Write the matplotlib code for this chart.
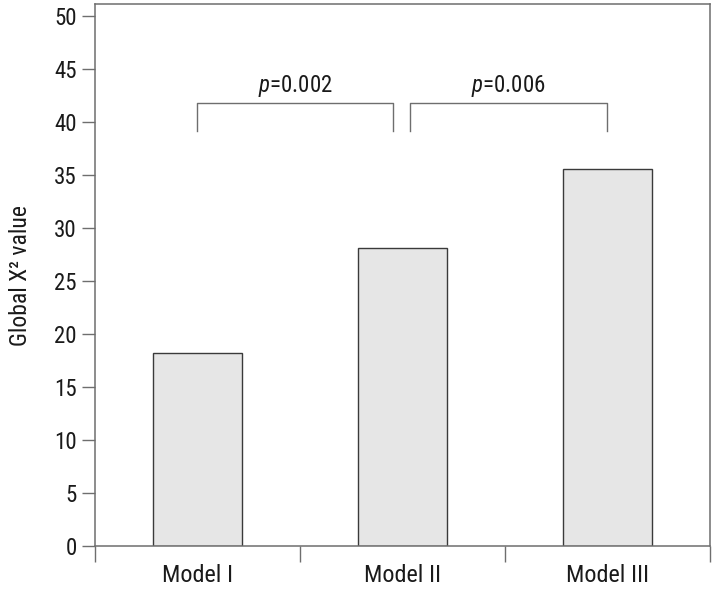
import matplotlib
matplotlib.use('Agg')
import matplotlib.pyplot as plt
from matplotlib import font_manager
from matplotlib.ticker import FixedLocator

# --- data ---
models = ['Model I', 'Model II', 'Model III']
chi2_values = [18.2, 28.1, 35.6]
y_ticks = [0, 5, 10, 15, 20, 25, 30, 35, 40, 45, 50]
p_labels = ['0.002', '0.006']

# pick a narrow face if one is around
names = {f.name for f in font_manager.fontManager.ttflist}
narrow = [n for n in ['Roboto Condensed', 'Liberation Sans Narrow'] if n in names]
FONT = narrow + ['Liberation Sans', 'DejaVu Sans']
plt.rcParams['font.family'] = FONT
plt.rcParams['mathtext.fontset'] = 'custom'
plt.rcParams['mathtext.rm'] = FONT[0]
plt.rcParams['mathtext.it'] = FONT[0] + ':italic'

BAR = '#e6e6e6'
EDGE = '#3a3a3a'
SPINE = '#6e6e6e'
TEXT = '#1a1a1a'

fig = plt.figure(figsize=(7.14, 5.9), dpi=100)
ax = fig.add_axes([0.133, 0.0746, 0.8614, 0.9178])

x = list(range(len(models)))
ax.bar(x, chi2_values, width=0.43, color=BAR, edgecolor=EDGE, linewidth=1.0, zorder=2)

ax.set_xlim(-0.5, 2.5)
ax.set_ylim(0, 51.1)

# y axis
ax.set_yticks(y_ticks)
ax.tick_params(axis='y', direction='out', length=9.5, width=1, color=SPINE,
               labelsize=16.5, labelcolor=TEXT, pad=3.5)

# x axis: separator ticks between categories, labels centred
ax.xaxis.set_major_locator(FixedLocator([-0.5, 0.5, 1.5, 2.5]))
ax.xaxis.set_minor_locator(FixedLocator(x))
ax.set_xticklabels([])
ax.set_xticklabels(models, minor=True)
ax.tick_params(axis='x', which='major', direction='out', length=11.5, width=1, color=SPINE)
ax.tick_params(axis='x', which='minor', length=0, labelsize=17.5, labelcolor=TEXT, pad=13)

for s in ax.spines.values():
    s.set_color(SPINE)
    s.set_linewidth(1.1)

ax.set_ylabel('Global X\u00b2 value', fontsize=17, color=TEXT, labelpad=16)

# significance brackets
y_low, y_high = 39.15, 41.8
brackets = [(0.0, 0.955), (1.035, 2.0)]
for (x0, x1), p in zip(brackets, p_labels):
    ax.plot([x0, x0, x1, x1], [y_low, y_high, y_high, y_low], color=SPINE, lw=1.0, zorder=3)
    ax.text((x0 + x1) / 2, y_high + 1.04, r'$\mathit{p}$=' + p, ha='center', va='baseline',
            fontsize=16.5, color=TEXT)

fig.savefig('out.png', dpi=100)
